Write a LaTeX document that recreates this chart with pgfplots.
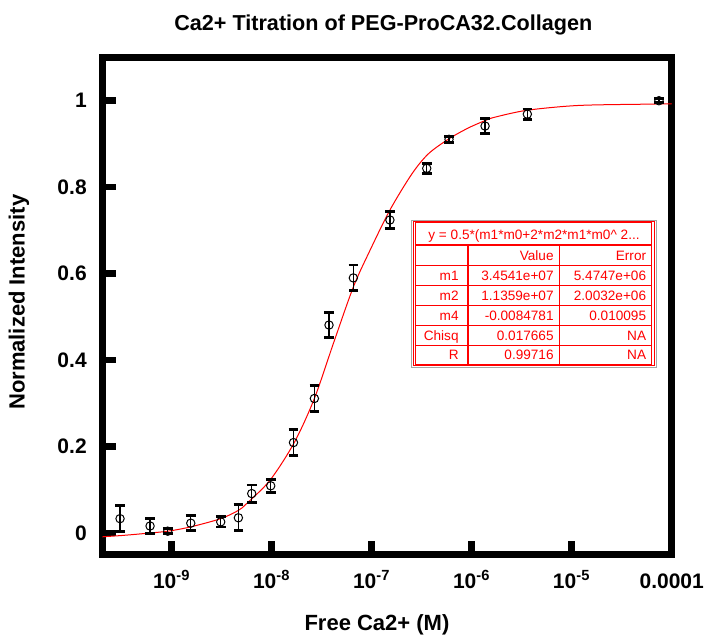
\documentclass[border=0pt]{standalone}
\usepackage{fontspec}
\setmainfont{Liberation Sans}
\usepackage{pgfplots}
\pgfplotsset{compat=1.18}
\usepackage{pgfplotstable}

% measured points: free Ca2+ (M), normalized intensity, error
\pgfplotstableread{
x        y       ey
3.04e-10 0.033   0.030
6.07e-10 0.016   0.017
9.12e-10 0.004   0.006
1.55e-9  0.0225  0.017
3.09e-9  0.0255  0.012
4.64e-9  0.035   0.030
6.31e-9  0.091   0.020
9.77e-9  0.109   0.0155
1.65e-8  0.209   0.030
2.67e-8  0.311   0.030
3.74e-8  0.481   0.029
6.55e-8  0.590   0.030
1.52e-7  0.724   0.019
3.55e-7  0.8435  0.011
5.93e-7  0.9106  0.007
1.36e-6  0.9414  0.017
3.60e-6  0.969   0.012
7.46e-5  1.000   0.005
}\titration

% fitted curve
\pgfplotstableread{
x        y
2.02e-10 -0.009
3.16e-10 -0.006
5.01e-10 -0.002
9.12e-10 0.004
1.55e-9  0.014
3.09e-9  0.033
4.63e-9  0.052
5.62e-9  0.068
9.62e-9  0.122
1.68e-8  0.209
2.67e-8  0.311
4.13e-8  0.438
6.55e-8  0.569
9.62e-8  0.654
1.52e-7  0.747
2.51e-7  0.830
3.68e-7  0.877
5.93e-7  0.912
9.25e-7  0.937
1.36e-6  0.954
1.71e-6  0.962
3.60e-6  0.978
1.16e-5  0.989
5.41e-5  0.992
1e-4     0.993
}\fitcurve

\begin{document}
\begin{tikzpicture}
\useasboundingbox (-51.15pt,-39.75pt) rectangle (300.85pt,277.25pt);
\begin{axis}[
    at={(0,0)}, anchor=south west,
    scale only axis,
    width=284.7pt, height=248.5pt,
    xmode=log,
    xmin=2.02e-10, xmax=1e-4,
    ymin=-0.05, ymax=1.1,
    xtick={1e-9,1e-8,1e-7,1e-6,1e-5,1e-4},
    xticklabels={10\textsuperscript{-9},10\textsuperscript{-8},10\textsuperscript{-7},10\textsuperscript{-6},10\textsuperscript{-5},0.0001},
    ytick={0,0.2,0.4,0.6,0.8,1},
    yticklabels={0,0.2,0.4,0.6,0.8,1},
    minor x tick style={draw=none},
    minor y tick style={draw=none},
    tick pos=left,
    tick align=inside,
    major tick length=6.75pt,
    major tick style={line width=3.3pt, black},
    axis line style={line width=3.5pt, line join=miter},
    /pgf/number format/assume math mode=true,
    tick label style={font=\bfseries\fontsize{10.5}{12}\selectfont, inner sep=0pt},
    xticklabel style={anchor=base, yshift=-16.9pt},
    yticklabel style={anchor=east, xshift=-7.6pt},
    every axis title shift=0pt,
    title={Ca2+ Titration of PEG-ProCA32.Collagen},
    title style={font=\bfseries\fontsize{10.8}{13}\selectfont, at={(axis description cs:0.4935,1.0539)}, anchor=base, inner sep=0pt},
    xlabel={Free Ca2+ (M)},
    xlabel style={font=\bfseries\fontsize{11}{13}\selectfont, at={(axis description cs:0.4824,-0.1519)}, anchor=base, inner sep=0pt},
    ylabel={Normalized Intensity},
    ylabel style={font=\bfseries\fontsize{11}{13}\selectfont, at={(axis description cs:-0.1363,0.5075)}, anchor=base, inner sep=0pt},
]
\addplot[red, line width=0.5pt, smooth, tension=0.5, no markers] table[x=x, y=y] {\fitcurve};
\addplot[
    black, only marks,
    mark=o, mark size=2.1pt,
    mark options={line width=0.5pt, black},
    error bars/.cd,
        y dir=both, y explicit,
        error bar style={line width=0.7pt, black},
        error mark options={rotate=90, mark size=2.4pt, line width=1.4pt, black},
] table[x=x, y=y, y error=ey] {\titration};
\end{axis}

% fit result box, in pixel units of the picture
\begin{scope}[x=0.5pt, y=-0.5pt, xshift=-51.15pt, yshift=277.25pt,
    every node/.style={font=\fontsize{6.8}{8}\selectfont, text=red, inner sep=0pt}]
\fill[white] (411.7,220) rectangle (656,367);
\draw[gray!70, line width=0.5pt] (411.7,220) rectangle (656,367);
\draw[red, line width=0.6pt] (413.3,221.5) rectangle (654.5,365.5);
\draw[red, line width=0.5pt] (415,222.7) rectangle (651,364);
\draw[red, line width=1pt] (415,245) -- (651,245);
\draw[red, line width=1pt] (467.7,245) -- (467.7,364);
\draw[red, line width=0.5pt] (559.3,245) -- (559.3,364);
\foreach \yy in {265,285,305,325,345}
    \draw[red, line width=0.5pt] (415,\yy) -- (651,\yy);
\node[anchor=base] at (534,239.5) {y = 0.5*(m1*m0+2*m2*m1*m0\textasciicircum{} 2...};
\node[anchor=base east] at (554,260.5) {Value};
\node[anchor=base east] at (646.5,260.5) {Error};
\node[anchor=base east] at (459,280.5) {m1};
\node[anchor=base east] at (554,280.5) {3.4541e+07};
\node[anchor=base east] at (646.5,280.5) {5.4747e+06};
\node[anchor=base east] at (459,300.5) {m2};
\node[anchor=base east] at (554,300.5) {1.1359e+07};
\node[anchor=base east] at (646.5,300.5) {2.0032e+06};
\node[anchor=base east] at (459,320.5) {m4};
\node[anchor=base east] at (554,320.5) {-0.0084781};
\node[anchor=base east] at (646.5,320.5) {0.010095};
\node[anchor=base east] at (459,340) {Chisq};
\node[anchor=base east] at (554,340) {0.017665};
\node[anchor=base east] at (646.5,340) {NA};
\node[anchor=base east] at (459,359.5) {R};
\node[anchor=base east] at (554,359.5) {0.99716};
\node[anchor=base east] at (646.5,359.5) {NA};
\end{scope}
\end{tikzpicture}
\end{document}
